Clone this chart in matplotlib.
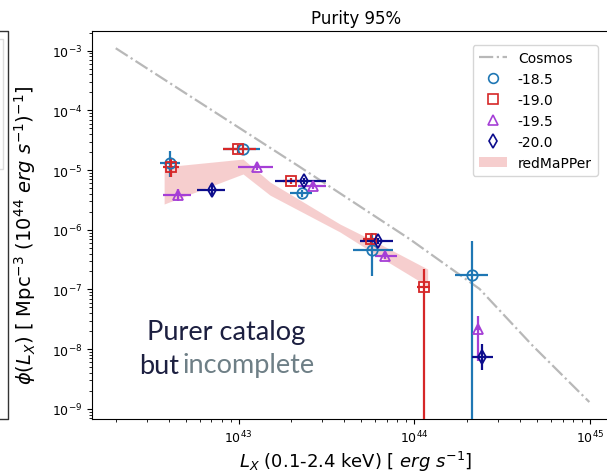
import matplotlib
matplotlib.use("Agg")
import matplotlib.pyplot as plt
from matplotlib.lines import Line2D
from matplotlib.patches import Patch
import numpy as np

# Cosmos reference curve
cosmos_L = [2.0e42, 2.23e43, 9.4e43, 2.35e44, 4.7e44, 9.9e44]
cosmos_phi = [1.1e-3, 1.13e-5, 7.0e-7, 1.02e-7, 1.15e-8, 1.3e-9]

# redMaPPer band (lower / upper envelope)
band_L = [3.77e42, 1.06e43, 1.51e43, 3.77e43, 6.35e43, 1.19e44]
band_lo = [2.7e-6, 8.6e-6, 3.8e-6, 9.2e-7, 3.5e-7, 1.14e-7]
band_hi = [1.13e-5, 1.53e-5, 6.3e-6, 1.25e-6, 5.8e-7, 2.2e-7]

labels = ["-18.5", "-19.0", "-19.5", "-20.0"]
colors = ["#1f77b4", "#d62728", "#a53fd6", "#0c0c8c"]
markers = ["o", "s", "^", "d"]

# luminosity function per magnitude cut: L, phi, and error bar ends
L_185 = [4.07e42, 1.06e43, 2.29e43, 5.72e43, 2.14e44]
L_185_lo = [3.57e42, 8.1e42, 1.95e43, 4.47e43, 1.70e44]
L_185_hi = [4.65e42, 1.32e43, 2.63e43, 7.53e43, 2.63e44]
phi_185 = [1.31e-5, 2.25e-5, 4.13e-6, 4.5e-7, 1.75e-7]
phi_185_lo = [7.6e-6, 1.9e-5, 3.6e-6, 1.66e-7, 1e-12]
phi_185_hi = [2.1e-5, 2.65e-5, 4.7e-6, 8.7e-7, 6.5e-7]

L_190 = [4.12e42, 9.9e42, 1.98e43, 5.65e43, 1.13e44]
L_190_lo = [3.7e42, 8.1e42, 1.78e43, 5.1e43, 1.04e44]
L_190_hi = [4.6e42, 1.25e43, 2.2e43, 6.2e43, 1.22e44]
phi_190 = [1.13e-5, 2.25e-5, 6.56e-6, 7.0e-7, 1.1e-7]
phi_190_lo = [7.7e-6, 1.95e-5, 5.8e-6, 5.9e-7, 1e-12]
phi_190_hi = [1.53e-5, 2.6e-5, 7.4e-6, 8.3e-7, 2.2e-7]

L_195 = [4.52e42, 1.27e43, 2.64e43, 6.78e43, 2.29e44]
L_195_lo = [3.72e42, 9.9e42, 2.17e43, 5.94e43, 2.2e44]
L_195_hi = [5.37e42, 1.57e43, 3.13e43, 7.94e43, 2.38e44]
phi_195 = [3.83e-6, 1.13e-5, 5.42e-6, 3.63e-7, 2.19e-8]
phi_195_lo = [3.0e-6, 1.0e-5, 4.9e-6, 3.2e-7, 6.3e-9]
phi_195_hi = [4.9e-6, 1.27e-5, 6.0e-6, 4.1e-7, 3.6e-8]

L_200 = [7.05e42, 2.35e43, 6.18e43, 2.44e44]
L_200_lo = [5.8e42, 1.61e43, 4.89e43, 2.14e44]
L_200_hi = [8.35e42, 3.13e43, 7.53e43, 2.79e44]
phi_200 = [4.64e-6, 6.56e-6, 6.5e-7, 7.4e-9]
phi_200_lo = [3.8e-6, 5.8e-6, 5.8e-7, 4.4e-9]
phi_200_hi = [5.6e-6, 7.4e-6, 7.3e-7, 1.23e-8]

series = [
    (L_185, L_185_lo, L_185_hi, phi_185, phi_185_lo, phi_185_hi),
    (L_190, L_190_lo, L_190_hi, phi_190, phi_190_lo, phi_190_hi),
    (L_195, L_195_lo, L_195_hi, phi_195, phi_195_lo, phi_195_hi),
    (L_200, L_200_lo, L_200_hi, phi_200, phi_200_lo, phi_200_hi),
]

W, H = 607, 477
fig = plt.figure(figsize=(W / 100, H / 100), dpi=100)


def px(x, y):
    return x / W, 1 - y / H


# edge of the neighbouring panel and its legend box
frame = [px(0, 32), px(8, 32), px(8, 420), px(0, 420)]
fig.add_artist(Line2D([p[0] for p in frame], [p[1] for p in frame],
                      color="#333333", lw=1.0))
box = [px(0, 40), px(3, 40), px(3, 170), px(0, 170)]
fig.add_artist(Line2D([p[0] for p in box], [p[1] for p in box],
                      color="#dddddd", lw=1.0))

ax = fig.add_axes([92 / W, 57 / H, 528 / W, 388 / H])
ax.set_xscale("log")
ax.set_yscale("log")

ax.plot(cosmos_L, cosmos_phi, ls="-.", color="#b8b8b8", lw=1.6, zorder=1)
ax.fill_between(band_L, band_lo, band_hi, color="#ee9f9f", alpha=0.5,
                lw=0, zorder=1)

for (L, Llo, Lhi, p, plo, phi), c, m in zip(series, colors, markers):
    L = np.array(L)
    p = np.array(p)
    xerr = [L - np.array(Llo), np.array(Lhi) - L]
    yerr = [p - np.array(plo), np.array(phi) - p]
    ax.errorbar(L, p, xerr=xerr, yerr=yerr, fmt=m, mfc="none", mec=c,
                ecolor=c, ms=7.5, mew=1.3, elinewidth=1.6, capsize=0, zorder=3)

ax.set_xlim(10 ** 42.166, 10 ** 45.17)
ax.set_ylim(10 ** -9.17, 10 ** -2.67)

ax.set_title("Purity 95%", fontsize=12, pad=6)
ax.set_xlabel(r"$L_X$ (0.1-2.4 keV) [ $erg$ $s^{-1}$]", fontsize=13)
ax.xaxis.set_label_coords(0.5, -0.078)
ax.set_ylabel(r"$\phi(L_X)$ [ Mpc$^{-3}$ (10$^{44}$ $erg$ $s^{-1}$)$^{-1}$]",
              fontsize=14)
ax.yaxis.set_label_coords(-0.102, 0.477)
ax.tick_params(labelsize=9)

handles = [Line2D([], [], ls="-.", color="#b8b8b8", lw=1.6)]
for c, m in zip(colors, markers):
    handles.append(Line2D([], [], ls="none", marker=m, mfc="none", mec=c,
                          ms=7, mew=1.2))
handles.append(Patch(color="#ee9f9f", alpha=0.5, lw=0))
ax.legend(handles, ["Cosmos"] + labels + ["redMaPPer"], loc="upper right",
          bbox_to_anchor=px(605, 39), bbox_transform=fig.transFigure,
          fontsize=10, handlelength=2.0, borderpad=0.45, labelspacing=0.5)

dark = "#1c1f40"
fig.text(*px(226, 333), "Purer catalog", family="Lato", fontsize=19.5,
         color=dark, ha="center", va="center")
fig.text(*px(139, 366), "but", family="Lato", fontsize=19.5,
         color=dark, ha="left", va="center")
fig.text(*px(182, 366), "incomplete", family="Lato", fontsize=19.5,
         color="#6e7f86", ha="left", va="center")

fig.savefig("out.png", dpi=100)
